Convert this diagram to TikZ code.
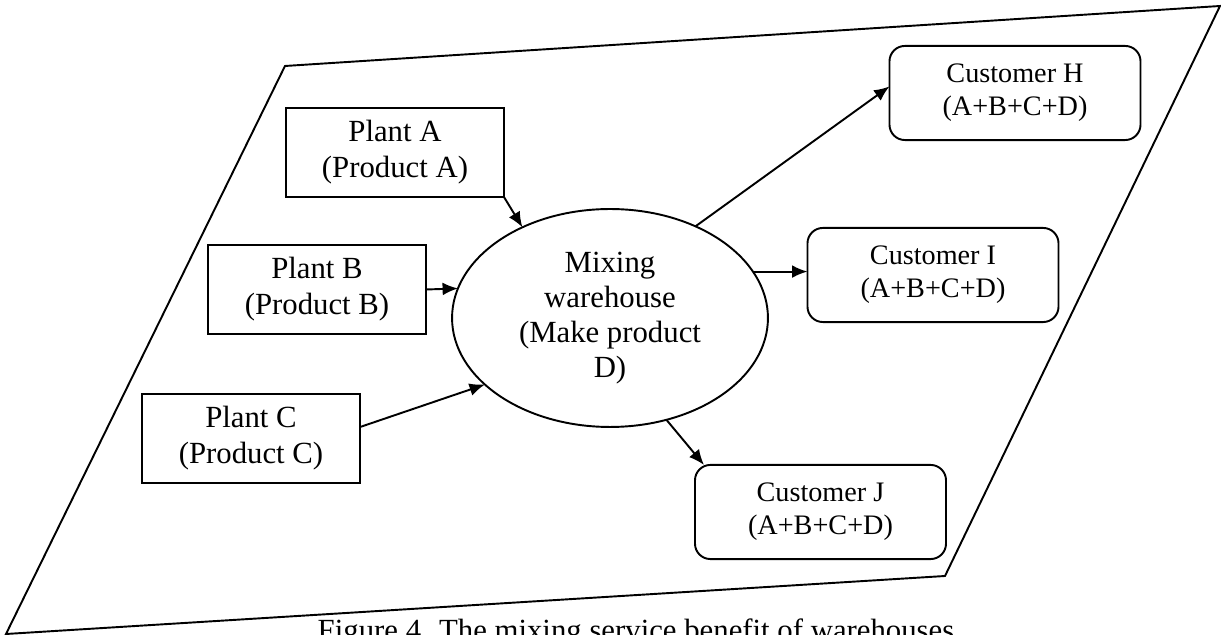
\documentclass[tikz,border=0pt]{standalone}
\usepackage{fontspec}
\setmainfont{Liberation Serif}
\usetikzlibrary{shapes.geometric,arrows.meta}
\begin{document}
\begin{tikzpicture}[x=0.39pt,y=-0.39pt,inner sep=0pt,outer sep=0pt,line width=0.75pt,
>={Latex[length=6pt,width=5pt]},
plantblock/.style={draw,rectangle,align=center,minimum width=85pt,minimum height=34.7pt,font=\fontsize{12}{14}\selectfont},
custblock/.style={draw,rectangle,rounded corners=6pt,align=center,minimum width=97.9pt,minimum height=36.7pt,font=\fontsize{11}{12.9}\selectfont},
mixblock/.style={draw,ellipse,align=center,minimum width=123.2pt,minimum height=85pt,font=\fontsize{12}{13.7}\selectfont}]
\useasboundingbox (0,0) rectangle (1221,635);
\draw (285,66) -- (1220,6) -- (945,576) -- (6,634) -- cycle;

\draw (395,152.5) node[plantblock] (pa) {Plant A\\(Product A)};
\draw (317,289.5) node[plantblock] (pb) {Plant B\\(Product B)};
\draw (251,438.5) node[plantblock] (pc) {Plant C\\(Product C)};
\draw (610,318) node[mixblock] (mix) {Mixing\\warehouse\\(Make product\\D)};
\draw (1015,93) node[custblock] (ch) {Customer H\\(A+B+C+D)};
\draw (933,275) node[custblock] (ci) {Customer I\\(A+B+C+D)};
\draw (820.5,512) node[custblock] (cj) {Customer J\\(A+B+C+D)};
\draw (636,641) node[anchor=base,font=\fontsize{12}{14}\selectfont] (cap) {Figure 4. The mixing service benefit of warehouses};

\draw[->] (pa.south east) -- (mix.134);
\draw[->] (pb.east) -- (mix.169.4);
\draw[->] (pc.6) -- (mix.208.4);
\draw[->] (mix.47.2) -- (ch.177);
\draw[->] (mix.18) -- (mix.18 -| ci.west);
\draw[->] (mix.-61.2) -- (cj.158);
\end{tikzpicture}
\end{document}
